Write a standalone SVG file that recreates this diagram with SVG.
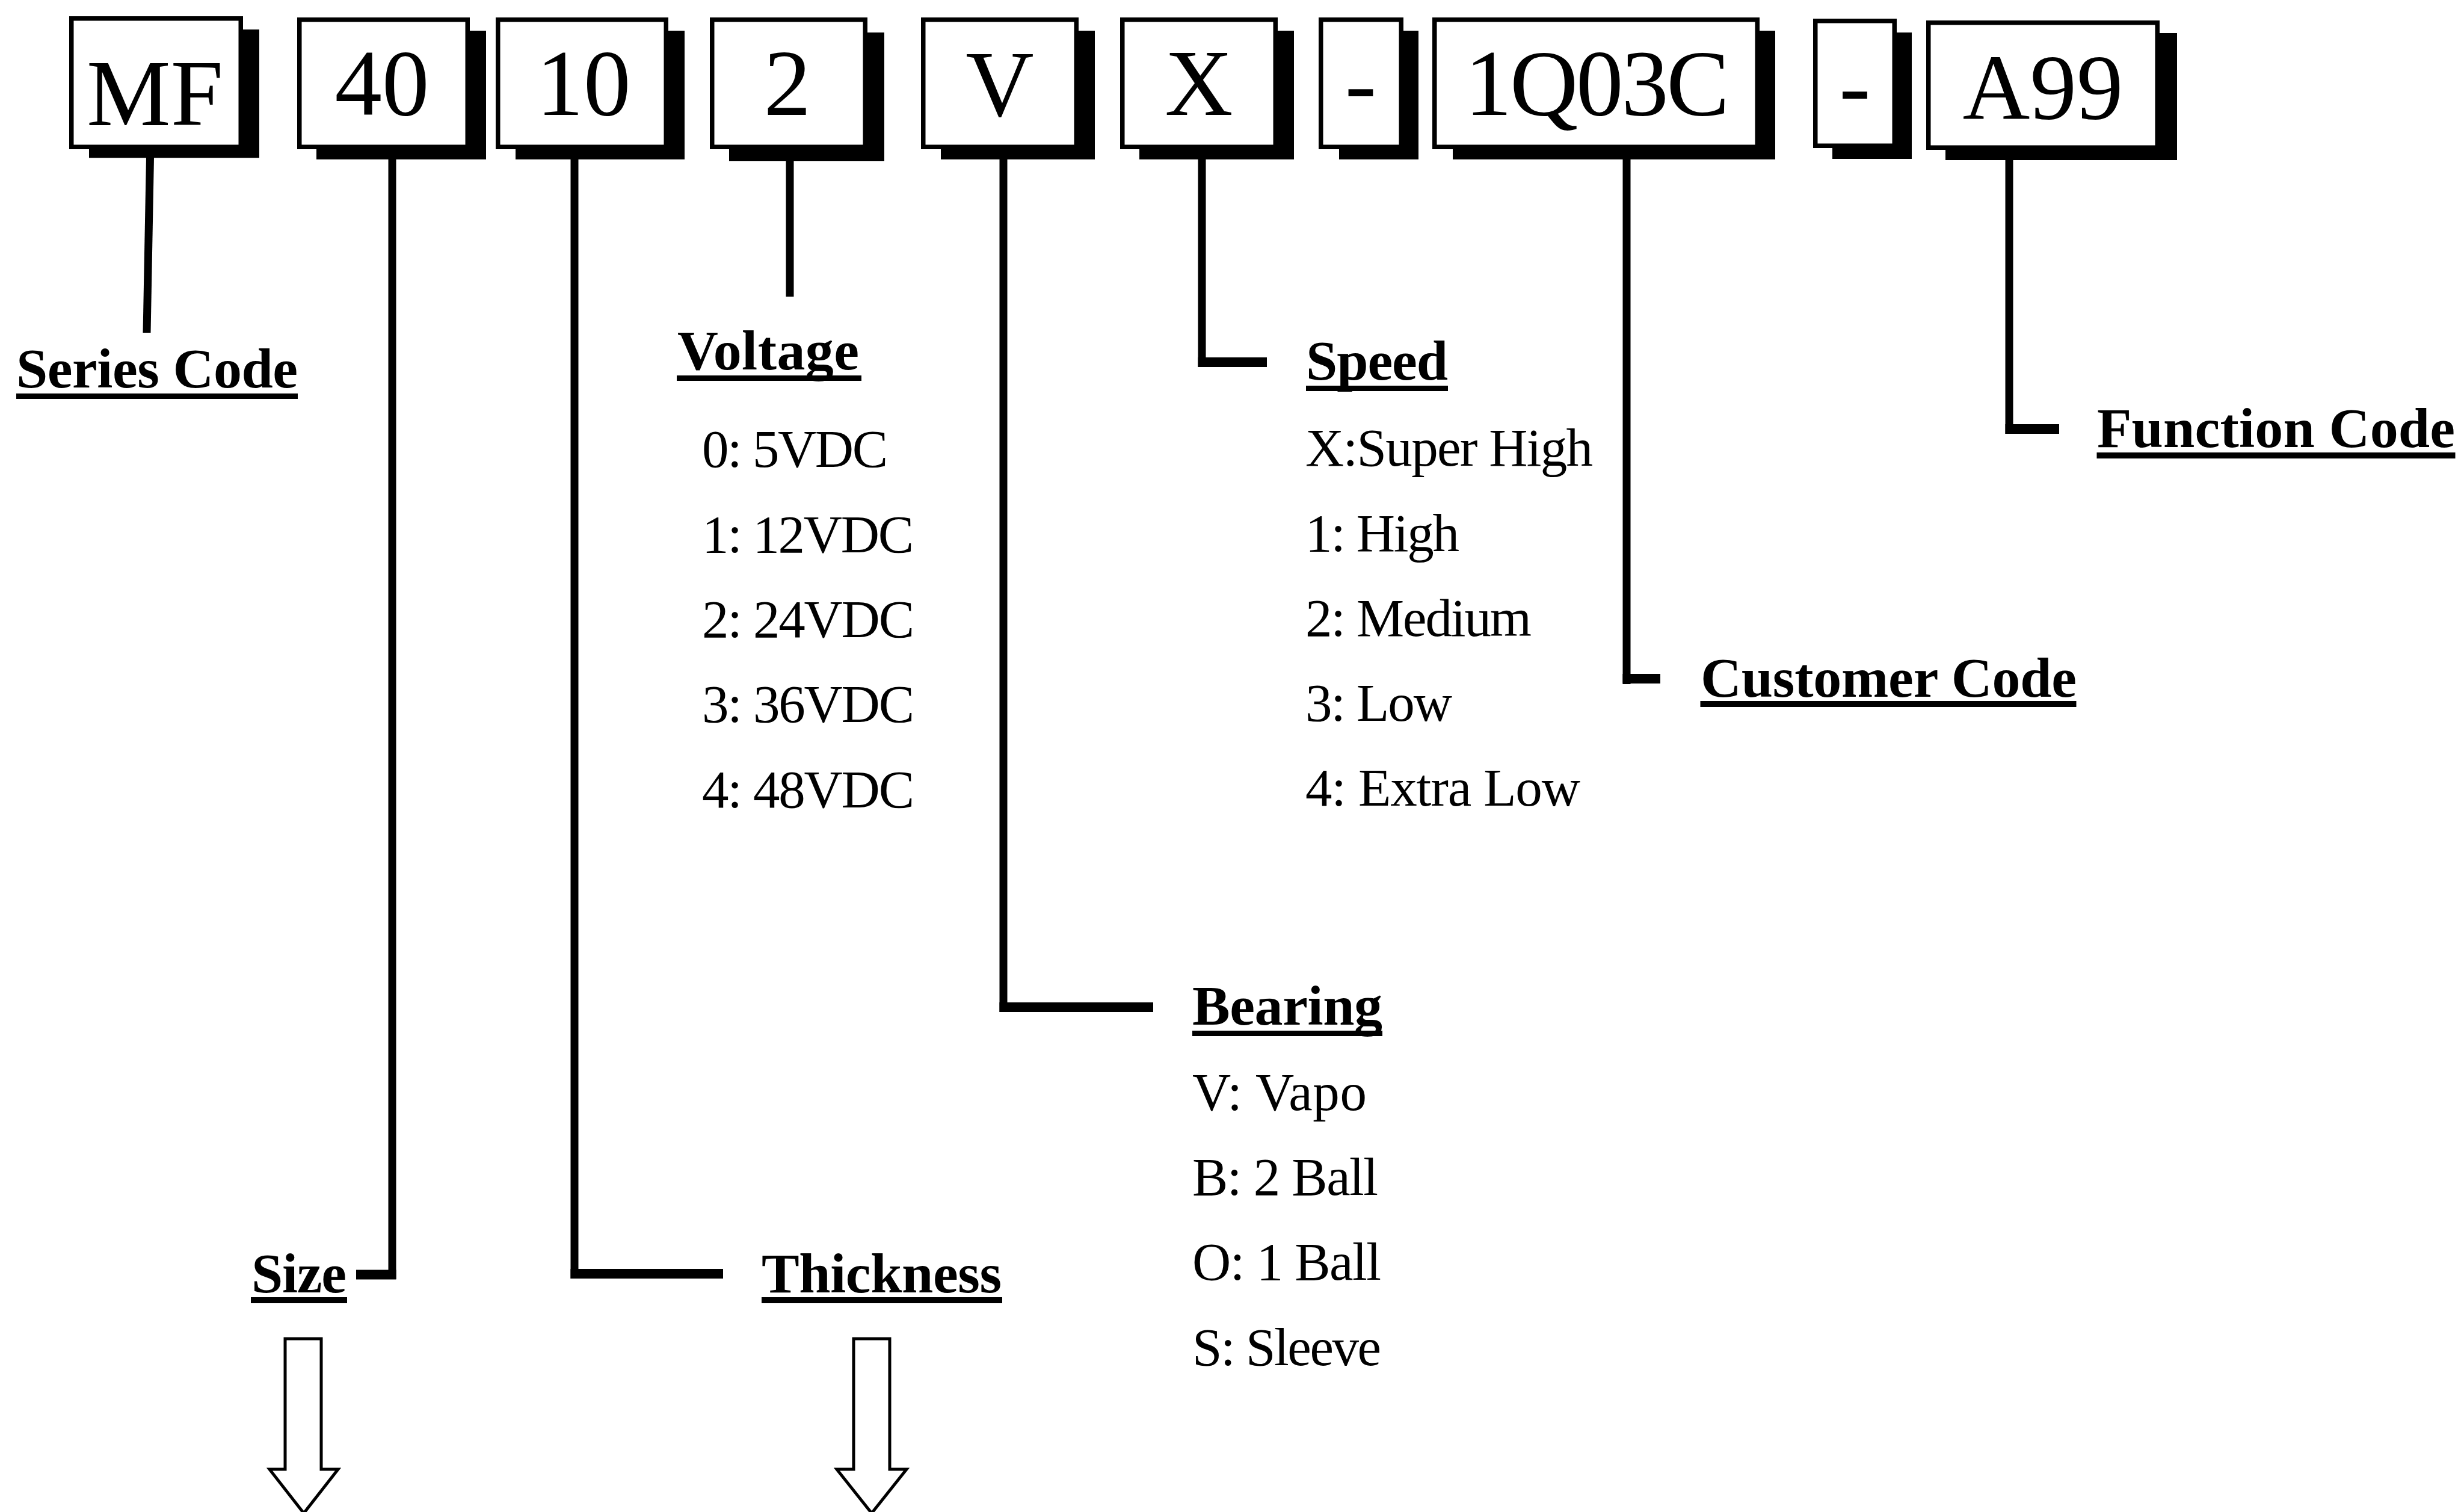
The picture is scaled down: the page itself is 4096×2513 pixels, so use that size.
<svg xmlns="http://www.w3.org/2000/svg" width="4096" height="2513" viewBox="0 0 4096 2513">
<style>
.bg{fill:#ffffff}
.shadow{fill:#000000}
.box{fill:#ffffff;stroke:#000000;stroke-width:7.5}
.code{font-family:"Liberation Serif","Times New Roman",serif;font-size:157px;fill:#000000;text-anchor:middle}
.label{font-family:"Liberation Serif","Times New Roman",serif;font-size:94px;font-weight:bold;fill:#000000}
.opt{font-family:"Liberation Serif","Times New Roman",serif;font-size:89px;fill:#000000}
.ul{fill:#000000}
.v{stroke:#000000;stroke-width:13;fill:none}
.h{stroke:#000000;stroke-width:16;fill:none}
.arrow{fill:#ffffff;stroke:#000000;stroke-width:5;stroke-linejoin:miter}
</style>
<rect class="bg" x="0" y="0" width="4096" height="2513"/>

<g id="connectors">
  <line class="v" x1="249.5" y1="262" x2="244" y2="553"/>
  <line class="v" x1="652" y1="262" x2="652" y2="2126"/>
  <line class="h" x1="592" y1="2118.5" x2="658.5" y2="2118.5"/>
  <line class="v" x1="955" y1="262" x2="955" y2="2125"/>
  <line class="h" x1="948.5" y1="2117" x2="1202" y2="2117"/>
  <line class="v" x1="1313" y1="265" x2="1313" y2="493"/>
  <line class="v" x1="1668" y1="262" x2="1668" y2="1682"/>
  <line class="h" x1="1661.5" y1="1674" x2="1917" y2="1674"/>
  <line class="v" x1="1998" y1="262" x2="1998" y2="610"/>
  <line class="h" x1="1991.5" y1="602" x2="2106" y2="602"/>
  <line class="v" x1="2704" y1="262" x2="2704" y2="1137"/>
  <line class="h" x1="2697.5" y1="1128" x2="2760" y2="1128"/>
  <line class="v" x1="3340" y1="263" x2="3340" y2="721"/>
  <line class="h" x1="3333.5" y1="713" x2="3423" y2="713"/>
  <polygon class="arrow" points="474,2225 534,2225 534,2442 562,2442 505,2515 448,2442 474,2442"/>
  <polygon class="arrow" points="1419,2225 1479,2225 1479,2442 1507,2442 1449,2515 1391,2442 1419,2442"/>
</g>

<g id="box-MF">
  <rect class="shadow" x="148" y="49" width="283" height="213.5"/>
  <rect class="box" x="118.75" y="30.75" width="281.5" height="213.5"/>
  <text class="code" x="257.5" y="208">MF</text>
</g>
<g id="box-40">
  <rect class="shadow" x="526" y="51" width="282" height="214"/>
  <rect class="box" x="497.75" y="32.75" width="279.5" height="211.5"/>
  <text class="code" x="635" y="191">40</text>
</g>
<g id="box-10">
  <rect class="shadow" x="857" y="51" width="281" height="214"/>
  <rect class="box" x="827.75" y="32.75" width="279.5" height="211.5"/>
  <text class="code" x="970" y="191">10</text>
</g>
<g id="box-2">
  <rect class="shadow" x="1212" y="54" width="258" height="214"/>
  <rect class="box" x="1183.75" y="32.75" width="254.5" height="211.5"/>
  <text class="code" x="1309" y="191">2</text>
</g>
<g id="box-V">
  <rect class="shadow" x="1564" y="51" width="256" height="214"/>
  <rect class="box" x="1534.75" y="32.75" width="254.5" height="211.5"/>
  <text class="code" x="1662" y="193">V</text>
</g>
<g id="box-X">
  <rect class="shadow" x="1894" y="51" width="257" height="214"/>
  <rect class="box" x="1865.75" y="32.75" width="254.5" height="211.5"/>
  <text class="code" x="1993" y="191">X</text>
</g>
<g id="box-dash1">
  <rect class="shadow" x="2226" y="51" width="132" height="214"/>
  <rect class="box" x="2195.75" y="32.75" width="133.5" height="211.5"/>
  <text class="code" x="2262" y="191">-</text>
</g>
<g id="box-1Q03C">
  <rect class="shadow" x="2415" y="51" width="536" height="214"/>
  <rect class="box" x="2384.75" y="32.75" width="536.5" height="211.5"/>
  <text class="code" x="2655" y="191" textLength="440" style="font-size:157px">1Q03C</text>
</g>
<g id="box-dash2">
  <rect class="shadow" x="3046" y="54" width="132" height="210"/>
  <rect class="box" x="3017.75" y="34.75" width="131.5" height="207.5"/>
  <text class="code" x="3083.5" y="195">-</text>
</g>
<g id="box-A99">
  <rect class="shadow" x="3234" y="55" width="385" height="211"/>
  <rect class="box" x="3205.75" y="37.75" width="380.5" height="207.5"/>
  <text class="code" x="3396" y="197" style="font-size:155px">A99</text>
</g>

<g id="label-series">
  <text class="label" x="27" y="643.5" textLength="468">Series Code</text>
  <rect class="ul" x="27" y="654" width="468" height="9"/>
</g>
<g id="label-size">
  <text class="label" x="418" y="2148" textLength="158">Size</text>
  <rect class="ul" x="417" y="2156" width="160" height="10"/>
</g>
<g id="label-thickness">
  <text class="label" x="1266" y="2148" textLength="399">Thickness</text>
  <rect class="ul" x="1266" y="2156" width="400" height="10"/>
</g>
<g id="label-voltage">
  <text class="label" x="1126" y="614" textLength="302">Voltage</text>
  <rect class="ul" x="1125" y="624" width="307" height="9"/>
  <text class="opt" x="1167" y="776" textLength="309">0: 5VDC</text>
  <text class="opt" x="1167" y="918" textLength="352">1: 12VDC</text>
  <text class="opt" x="1167" y="1059" textLength="353">2: 24VDC</text>
  <text class="opt" x="1167" y="1200" textLength="353">3: 36VDC</text>
  <text class="opt" x="1167" y="1342" textLength="353">4: 48VDC</text>
</g>
<g id="label-speed">
  <text class="label" x="2171" y="631" textLength="236">Speed</text>
  <rect class="ul" x="2171" y="641" width="236" height="9"/>
  <text class="opt" x="2170" y="774" textLength="478">X:Super High</text>
  <text class="opt" x="2170" y="916" textLength="256">1: High</text>
  <text class="opt" x="2170" y="1057" textLength="376">2: Medium</text>
  <text class="opt" x="2170" y="1198" textLength="244">3: Low</text>
  <text class="opt" x="2170" y="1339" textLength="457">4: Extra Low</text>
</g>
<g id="label-bearing">
  <text class="label" x="1982" y="1703" textLength="316">Bearing</text>
  <rect class="ul" x="1982" y="1713" width="316" height="9"/>
  <text class="opt" x="1982" y="1845" textLength="290">V: Vapo</text>
  <text class="opt" x="1982" y="1986" textLength="309">B: 2 Ball</text>
  <text class="opt" x="1982" y="2127" textLength="314">O: 1 Ball</text>
  <text class="opt" x="1982" y="2269" textLength="314">S: Sleeve</text>
</g>
<g id="label-customer">
  <text class="label" x="2827" y="1158" textLength="625">Customer Code</text>
  <rect class="ul" x="2826.5" y="1165" width="625" height="10"/>
</g>
<g id="label-function">
  <text class="label" x="3486" y="743" textLength="595">Function Code</text>
  <rect class="ul" x="3485.5" y="752" width="596" height="10"/>
</g>
</svg>
